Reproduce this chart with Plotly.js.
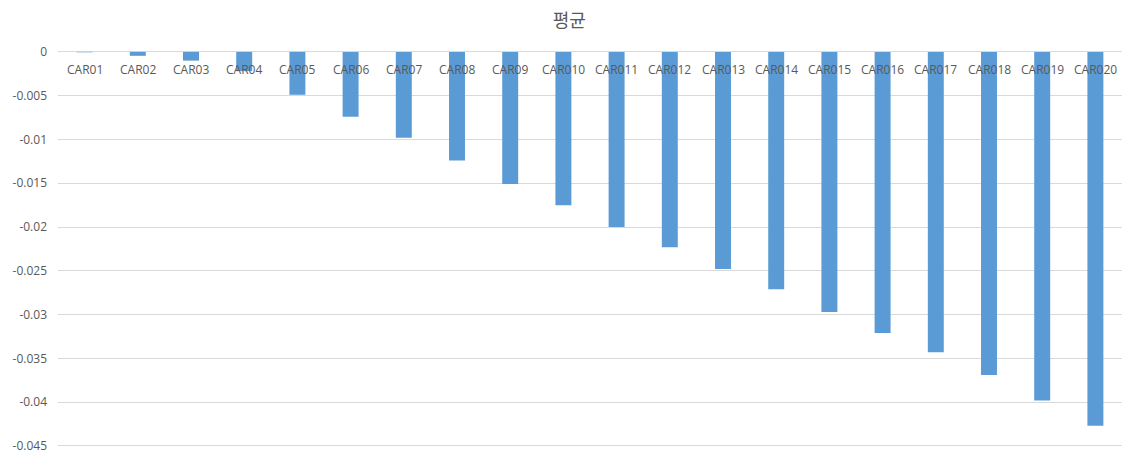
<!DOCTYPE html>
<html>
<head>
<meta charset="utf-8">
<script src="https://cdn.plot.ly/plotly-3.0.1.min.js"></script>
<style>html,body{margin:0;padding:0;background:#fff}#chart{width:1123px;height:455px}</style>
</head>
<body>
<div id="chart"></div>
<script>
const categories = ["CAR01","CAR02","CAR03","CAR04","CAR05","CAR06","CAR07","CAR08","CAR09","CAR010",
  "CAR011","CAR012","CAR013","CAR014","CAR015","CAR016","CAR017","CAR018","CAR019","CAR020"];
const avgValues = [-0.00005,-0.00045,-0.001,-0.0022,-0.0049,-0.0074,-0.0098,-0.0124,-0.0151,-0.0175,
  -0.0200,-0.0223,-0.0248,-0.0271,-0.0297,-0.0321,-0.0343,-0.0369,-0.0398,-0.0427];
const yTickVals = [0,-0.005,-0.01,-0.015,-0.02,-0.025,-0.03,-0.035,-0.04,-0.045];
const yTickText = ["0","-0.005","-0.01","-0.015","-0.02","-0.025","-0.03","-0.035","-0.04","-0.045"];
const chartTitle = "평균";

const tickFont = {family: '"Open Sans", "Noto Sans", sans-serif', size: 12, color: '#595959'};

const trace = {
  type: 'bar',
  x: categories,
  y: avgValues,
  marker: {color: '#5B9BD5'},
  hoverinfo: 'x+y'
};
// category labels sit just below the zero line, over the bars (as in Excel)
const catLabels = categories.map(c => ({
  xref: 'x', yref: 'y', x: c, y: 0,
  text: c, showarrow: false,
  xanchor: 'center', yanchor: 'middle', yshift: -18,
  font: tickFont
}));
const layout = {
  width: 1123, height: 455,
  margin: {l: 58, r: 1, t: 51, b: 8},
  paper_bgcolor: '#fff', plot_bgcolor: '#fff',
  bargap: 0.7,
  showlegend: false,
  title: {text: chartTitle, x: 0.507, xanchor: 'center', y: 0.955, yanchor: 'middle',
    font: {family: '"Noto Sans CJK KR", "Noto Sans", sans-serif', size: 18, color: '#595959'}},
  annotations: catLabels,
  xaxis: {
    type: 'category',
    showticklabels: false,
    showgrid: false,
    showline: false,
    ticks: '',
    fixedrange: true
  },
  yaxis: {
    range: [-0.04512, 0.0001],
    tickvals: yTickVals,
    ticktext: yTickText,
    showgrid: true,
    gridcolor: '#d9d9d9',
    gridwidth: 1,
    zeroline: true,
    zerolinecolor: '#d9d9d9',
    zerolinewidth: 1,
    showline: false,
    ticks: '',
    ticklabelstandoff: 10,
    tickfont: tickFont,
    fixedrange: true
  }
};
Plotly.newPlot('chart', [trace], layout, {displayModeBar: false, staticPlot: true});
</script>
</body>
</html>
